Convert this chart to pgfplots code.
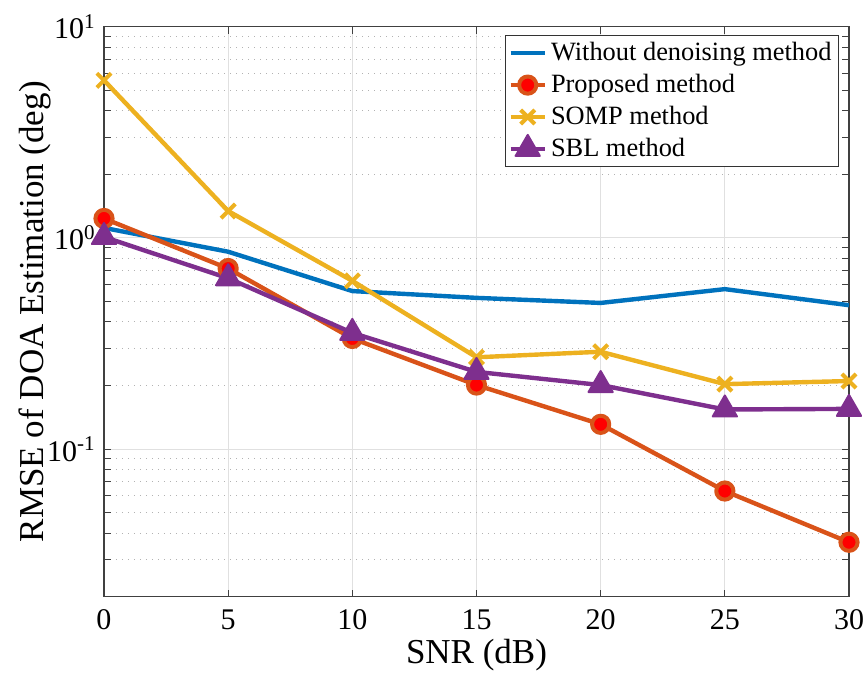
\documentclass[border=0pt]{standalone}
\usepackage{fontspec}
\setmainfont{Liberation Serif}
\usepackage{pgfplots}
\pgfplotsset{compat=1.18}
\definecolor{mblue}{rgb}{0,0.447,0.741}
\definecolor{morange}{rgb}{0.85,0.325,0.098}
\definecolor{myellow}{rgb}{0.929,0.694,0.125}
\definecolor{mpurple}{rgb}{0.494,0.184,0.556}
\begin{document}
\begin{tikzpicture}
\begin{axis}[
  name=ax,
  scale only axis, width=372.5pt, height=285pt,
  ymode=log, xmin=0, xmax=30, ymin=0.02, ymax=10,
  xtick={0,5,10,15,20,25,30},
  ytick={0.1,1,10},
  yticklabels={10\textsuperscript{-1},10\textsuperscript{0},10\textsuperscript{1}},
  minor ytick={0.02,0.03,0.04,0.05,0.06,0.07,0.08,0.09,0.2,0.3,0.4,0.5,0.6,0.7,0.8,0.9,2,3,4,5,6,7,8,9},
  grid=both,
  major grid style={color=black!12, line width=0.5pt},
  minor grid style={color=black!30, line width=0.5pt, dash pattern=on 0.6pt off 2.4pt},
  axis line style={color=black!75, line width=0.55pt},
  tick style={color=black!75, line width=0.55pt},
  tick align=inside,
  major tick length=3.5pt, minor tick length=3.5pt,
  /pgf/number format/assume math mode=true,
  tick label style={font=\fontsize{15}{18}\selectfont},
  xticklabel style={yshift=-3pt},
  yticklabel style={xshift=-0.6pt},
  label style={font=\fontsize{17.5}{21}\selectfont},
  xlabel={SNR (dB)},
  ylabel={RMSE of DOA Estimation (deg)},
  xlabel style={at={(axis description cs:0.5,-0.102)}, anchor=center},
  ylabel style={at={(axis description cs:-0.0926,0.5)}, anchor=center},
  legend style={at={(rel axis cs:0.9866,0.9854)}, anchor=north east,
    font=\fontsize{13.2}{16}\selectfont, draw=black!80, line width=0.5pt,
    fill=white, inner sep=1.5pt, row sep=1.3pt, nodes={inner sep=2pt}},
  legend cell align=left,
  every axis plot/.append style={line width=2.2pt, line join=round},
]
\addplot[color=mblue] coordinates {(0,1.115)(5,0.86)(10,0.56)(15,0.52)(20,0.492)(25,0.572)(30,0.48)};
\addlegendentry{Without denoising method}
\addplot[color=morange, mark=*, mark size=4.3pt, mark options={fill=red, draw=morange, line width=2pt}] coordinates {(0,1.236)(5,0.716)(10,0.334)(15,0.201)(20,0.131)(25,0.0633)(30,0.0362)};
\addlegendentry{Proposed method}
\addplot[color=myellow, mark=x, mark size=5pt, mark options={line width=2pt}] coordinates {(0,5.57)(5,1.34)(10,0.626)(15,0.272)(20,0.289)(25,0.203)(30,0.21)};
\addlegendentry{SOMP method}
\addplot[color=mpurple, mark=triangle*, mark size=7pt, mark options={fill=mpurple, line width=1pt}] coordinates {(0,1.01)(5,0.644)(10,0.355)(15,0.232)(20,0.201)(25,0.154)(30,0.155)};
\addlegendentry{SBL method}
\end{axis}
\pgfresetboundingbox
\path[use as bounding box] ([xshift=-52pt,yshift=-38.15pt]ax.south west) rectangle ([xshift=8.5pt,yshift=13.35pt]ax.north east);
\end{tikzpicture}
\end{document}
